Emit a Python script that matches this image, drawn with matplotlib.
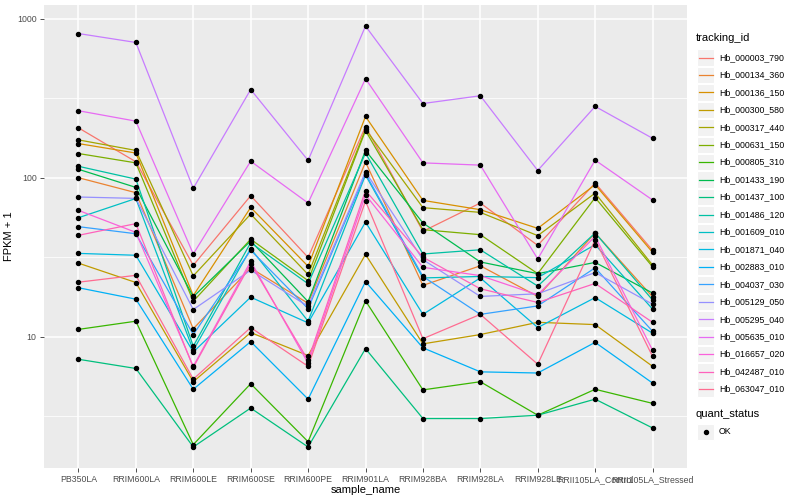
import matplotlib
matplotlib.use("Agg")
import matplotlib.pyplot as plt
from matplotlib.patches import Rectangle
from matplotlib.ticker import FixedLocator, NullFormatter

plt.rcParams['font.family'] = ['Liberation Sans', 'DejaVu Sans']

samples = ["PB350LA", "RRIM600LA", "RRIM600LE", "RRIM600SE", "RRIM600PE",
           "RRIM901LA", "RRIM928BA", "RRIM928LA", "RRIM928LE",
           "RRII105LA_Control", "RRII105LA_Stressed"]

tracking_ids = ["Hb_000003_790", "Hb_000134_360", "Hb_000136_150", "Hb_000300_580",
                "Hb_000317_440", "Hb_000631_150", "Hb_000805_310", "Hb_001433_190",
                "Hb_001437_100", "Hb_001486_120", "Hb_001609_010", "Hb_001871_040",
                "Hb_002883_010", "Hb_004037_030", "Hb_005129_050", "Hb_005295_040",
                "Hb_005635_010", "Hb_016657_020", "Hb_042487_010", "Hb_063047_010"]

# FPKM + 1 per tracking id, one value per sample
hb_000003_790 = [206, 126, 28.1, 77, 31.5, 210, 46, 69.3, 37.5, 92.6, 34.9]
hb_000134_360 = [100, 80.5, 11.2, 27, 16.2, 125.5, 21.0, 27.9, 17.9, 44.9, 17.8]
hb_000136_150 = [164, 143, 18.1, 65, 27.7, 243, 72, 62.9, 48, 90.4, 33.9]
hb_000300_580 = [29.0, 21.9, 5.2, 10.6, 7.6, 32.9, 9.0, 10.3, 12.3, 11.9, 6.5]
hb_000317_440 = [173, 148.5, 24.1, 59, 24.6, 202, 64.8, 60.5, 43.2, 80, 28.2]
hb_000631_150 = [142, 124, 16.7, 41, 22.5, 198, 47.1, 43.8, 24.9, 74.9, 27.5]
hb_000805_310 = [11.1, 12.5, 2.09, 5.05, 2.18, 16.8, 4.62, 5.2, 3.2, 4.66, 3.8]
hb_001433_190 = [113, 86.9, 17.8, 40, 16.6, 148.5, 51.9, 29.5, 24.9, 29.3, 18.8]
hb_001437_100 = [7.2, 6.3, 2.02, 3.55, 2.02, 8.4, 3.05, 3.05, 3.2, 4.04, 2.66]
hb_001486_120 = [118, 98, 8.7, 39, 21.5, 143, 33.1, 35.2, 20.8, 44.9, 17.0]
hb_001609_010 = [56, 74, 8.2, 35.8, 12.5, 104, 23.4, 23.9, 23.5, 37.9, 14.9]
hb_001871_040 = [33.4, 32.5, 8.0, 17.7, 12.2, 52.6, 13.8, 23.4, 11.4, 17.6, 10.5]
hb_002883_010 = [20.3, 17.2, 4.66, 9.3, 4.04, 22.2, 8.5, 6.0, 5.9, 9.2, 5.1]
hb_004037_030 = [49.2, 44.4, 10.3, 35, 15.0, 106, 23.9, 13.8, 15.6, 27.1, 10.8]
hb_005129_050 = [75.6, 74.1, 14.8, 26.2, 15.5, 109, 30.5, 17.9, 18.6, 25.3, 16.0]
hb_005295_040 = [808, 710, 85.7, 359, 128.5, 900, 293, 328, 111, 281, 177]
hb_005635_010 = [264, 227, 33.1, 127, 69.3, 420, 124, 120, 30.8, 129, 72.4]
hb_016657_020 = [62.3, 45.3, 6.5, 29.8, 6.8, 78, 27.3, 24.2, 18.3, 42.8, 8.2]
hb_042487_010 = [43.4, 51.4, 6.4, 28.8, 7.1, 83, 31.6, 20.0, 16.4, 21.6, 12.3]
hb_063047_010 = [22.0, 24.3, 5.4, 11.4, 6.5, 71.3, 9.7, 13.8, 6.7, 40.7, 7.5]

series = [hb_000003_790, hb_000134_360, hb_000136_150, hb_000300_580, hb_000317_440,
          hb_000631_150, hb_000805_310, hb_001433_190, hb_001437_100, hb_001486_120,
          hb_001609_010, hb_001871_040, hb_002883_010, hb_004037_030, hb_005129_050,
          hb_005295_040, hb_005635_010, hb_016657_020, hb_042487_010, hb_063047_010]

colors = ["#F8766D", "#EA8331", "#D89000", "#C09B00", "#A3A500", "#7CAE00", "#39B600",
          "#00BB4E", "#00BF7D", "#00C1A3", "#00BFC4", "#00BAE0", "#00B0F6", "#35A2FF",
          "#9590FF", "#C77CFF", "#E76BF3", "#FA62DB", "#FF62BC", "#FF6C91"]

W, H = 800, 500
fig = plt.figure(figsize=(8, 5), dpi=100)
fig.patch.set_facecolor("white")

# panel in pixel coords: x 44..687, y 5..468
pl, pr, pt, pb = 44, 687, 5, 468
ax = fig.add_axes([pl / W, 1 - pb / H, (pr - pl) / W, (pb - pt) / H])
ax.set_facecolor("#EBEBEB")
for s in ax.spines.values():
    s.set_visible(False)

x = list(range(len(samples)))
for vals, col in zip(series, colors):
    ax.plot(x, vals, color=col, lw=0.9, zorder=3, solid_capstyle="butt")
for vals in series:
    ax.plot(x, vals, linestyle="none", marker="o", ms=2.9, color="black", zorder=4)

ax.set_yscale("log")
ax.set_ylim(10 ** 0.173, 10 ** 3.087)
ax.set_xlim(-0.6, len(samples) - 1 + 0.6)

ax.yaxis.set_major_locator(FixedLocator([10, 100, 1000]))
ax.yaxis.set_minor_locator(FixedLocator([10 ** 0.5, 10 ** 1.5, 10 ** 2.5]))
ax.yaxis.set_minor_formatter(NullFormatter())
ax.set_yticklabels(["10", "100", "1000"])
ax.set_xticks(x)
ax.set_xticklabels(samples)

ax.grid(which="major", color="white", lw=1.1, zorder=1)
ax.grid(which="minor", axis="y", color="white", lw=0.55, zorder=1)
ax.set_axisbelow(True)
ax.tick_params(axis="both", which="major", length=2.8, width=0.6, color="#333333",
               labelsize=6.3, labelcolor="#4D4D4D", pad=2.5)
ax.tick_params(axis="y", which="minor", length=0)

ax.set_xlabel("sample_name", fontsize=8, color="black", labelpad=0.5)
ax.set_ylabel("FPKM + 1", fontsize=8, color="black", labelpad=2)

# legend drawn in pixel space
lax = fig.add_axes([0, 0, 1, 1])
lax.set_xlim(0, W)
lax.set_ylim(H, 0)
lax.axis("off")

lax.text(696, 38, "tracking_id", fontsize=8, va="center", ha="left")
y0, dy = 57.5, 17.45
for i, (name, col) in enumerate(zip(tracking_ids, colors)):
    yc = y0 + i * dy
    lax.add_patch(Rectangle((697, yc - 8.2), 17, 16.4, facecolor="#F2F2F2",
                            edgecolor="white", lw=0.8))
    lax.plot([698.5, 712.5], [yc, yc], color=col, lw=0.9)
    lax.text(719, yc, name, fontsize=6.3, va="center", ha="left")

lax.text(696, 414, "quant_status", fontsize=8, va="center", ha="left")
yc = 432
lax.add_patch(Rectangle((697, yc - 8.2), 17, 16.4, facecolor="#F2F2F2",
                        edgecolor="white", lw=0.8))
lax.plot([705.5], [yc], marker="o", ms=2.9, color="black")
lax.text(719, yc, "OK", fontsize=6.3, va="center", ha="left")

fig.savefig("out.png", dpi=100)
